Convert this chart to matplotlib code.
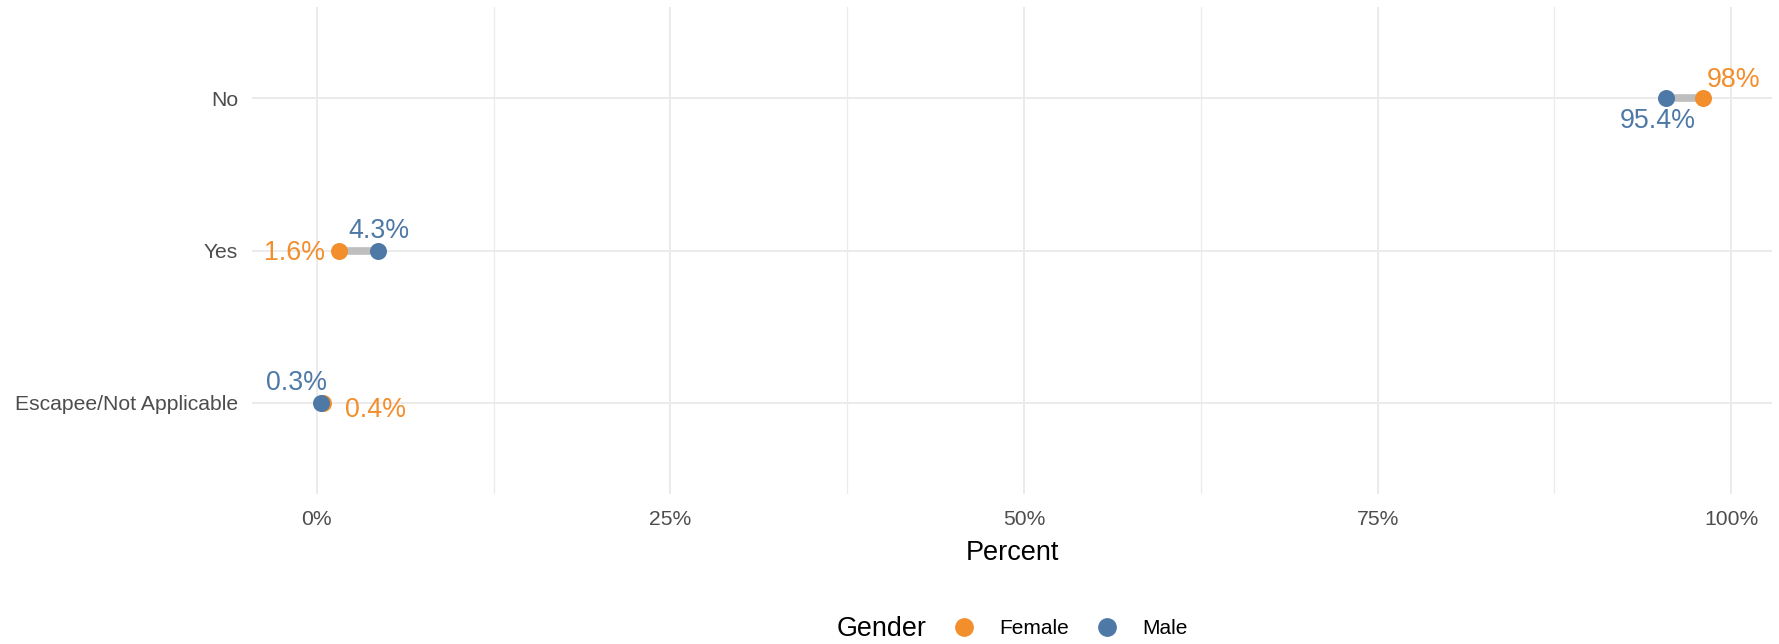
import matplotlib
matplotlib.use("Agg")
import matplotlib.pyplot as plt
from matplotlib.lines import Line2D
from matplotlib.ticker import MultipleLocator, FuncFormatter

plt.rcParams['font.family'] = ['Liberation Sans', 'DejaVu Sans']

# data
categories = ["Escapee/Not Applicable", "Yes", "No"]
female = [0.4, 1.6, 98.0]
male = [0.3, 4.3, 95.4]
genders = ["Female", "Male"]

orange = "#F28E2B"
blue = "#4E79A7"
seg_gray = "#BEBEBE"
grid_col = "#EBEBEB"

# label offsets in pixels (dx right, dy down), one per category
female_off = [(53, 7), (-45, 2), (31, -18)]
male_off = [(-25, -20), (1, -19), (-8, 23)]

W, H = 1779, 644
fig = plt.figure(figsize=(W / 100, H / 100), dpi=100)
ax = fig.add_axes([252 / W, (H - 494) / H, (1772 - 252) / W, (494 - 7) / H])

ypos = list(range(1, len(categories) + 1))

allv = female + male
lo, hi = min(allv), max(allv)
pad = 0.05 * (hi - lo)
ax.set_xlim(lo - pad, hi + pad)
ax.set_ylim(0.4, len(categories) + 0.6)

# grid
ax.xaxis.set_major_locator(MultipleLocator(25))
ax.xaxis.set_minor_locator(MultipleLocator(12.5))
ax.xaxis.set_major_formatter(FuncFormatter(lambda v, p: f"{v:g}%"))
ax.set_yticks(ypos)
ax.set_yticklabels(categories)
ax.grid(True, which='major', color=grid_col, lw=1.4)
ax.grid(True, which='minor', axis='x', color=grid_col, lw=0.9)
ax.set_axisbelow(True)
for s in ax.spines.values():
    s.set_visible(False)
ax.tick_params(axis='both', which='both', length=0)
ax.tick_params(axis='x', labelsize=15.2, labelcolor='#4D4D4D', pad=11.5)
ax.tick_params(axis='y', labelsize=15.2, labelcolor='#4D4D4D', pad=10)

# segments + points
for y, f, m in zip(ypos, female, male):
    ax.plot([f, m], [y, y], color=seg_gray, lw=5.5, solid_capstyle='butt', zorder=2)
ax.scatter(female, ypos, s=150, color=orange, zorder=3, linewidths=0)
ax.scatter(male, ypos, s=150, color=blue, zorder=4, linewidths=0)

# value labels
for y, v, off in zip(ypos, female, female_off):
    ax.annotate(f"{v:g}%", xy=(v, y), xytext=(off[0], -off[1]), textcoords='offset pixels',
                ha='center', va='center', color=orange, fontsize=19.3, zorder=5)
for y, v, off in zip(ypos, male, male_off):
    ax.annotate(f"{v:g}%", xy=(v, y), xytext=(off[0], -off[1]), textcoords='offset pixels',
                ha='center', va='center', color=blue, fontsize=19.3, zorder=5)

ax.set_xlabel("Percent", fontsize=19.5, color='black')
ax.xaxis.set_label_coords(0.5, -(553 - 494) / 487)
ax.xaxis.label.set_va('center')

# legend
handles = [Line2D([], [], marker='o', ls='', color=c, markersize=12.5) for c in (orange, blue)]
fig.legend(handles, genders, loc='center left', bbox_to_anchor=(953.6 / W, (H - 629) / H),
           ncol=2, frameon=False, fontsize=15, handlelength=1.0, handletextpad=1.18,
           columnspacing=1.33, borderpad=0, borderaxespad=0)
fig.text(836.7 / W, (H - 629) / H, "Gender", fontsize=19.4, va='center', ha='left')

fig.savefig("out.png", dpi=100)
